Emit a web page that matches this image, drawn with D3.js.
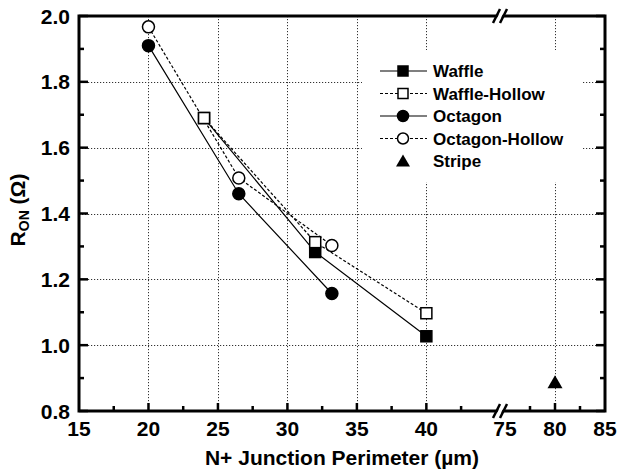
<!DOCTYPE html>
<html>
<head>
<meta charset="utf-8">
<script src="https://cdn.jsdelivr.net/npm/d3@7"></script>
<style>
  body { margin: 0; background: #fff; }
  svg { display: block; font-family: "Liberation Sans", Arial, sans-serif; font-weight: bold; }
</style>
</head>
<body>
<div id="chart"></div>
<script>
// data
const waffleX = [24, 32, 40];
const waffleY = [1.69, 1.283, 1.027];
const waffleHollowX = [24, 32, 40];
const waffleHollowY = [1.69, 1.313, 1.097];
const octagonX = [20, 26.5, 33.2];
const octagonY = [1.91, 1.46, 1.157];
const octagonHollowX = [20, 26.5, 33.2];
const octagonHollowY = [1.967, 1.508, 1.303];
const stripeX = [80];
const stripeY = [0.887];

const yTicks = [0.8, 1.0, 1.2, 1.4, 1.6, 1.8, 2.0];
const xTicksLeft = [15, 20, 25, 30, 35, 40];
const xTicksRight = [75, 80, 85];
const xGridLeft = [20, 25, 30, 35, 40];
const xGridRight = [80];
const yGrid = [1.0, 1.2, 1.4, 1.6, 1.8];

(function () {
const W = 619, H = 474;
const pLeft = 79, pRight = 605, pTop = 16, pBottom = 411;
const breakX = 500;

const svg = d3.select('#chart').append('svg').attr('width', W).attr('height', H);

// broken x axis: two linear pieces
const xL = d3.scaleLinear().domain([15, 45.3]).range([pLeft, breakX]);
const xR = d3.scaleLinear().domain([74.5, 85]).range([breakX, pRight]);
const x = v => v < 60 ? xL(v) : xR(v);
const y = d3.scaleLinear().domain([0.8, 2.0]).range([pBottom, pTop]);

// grid
const grid = svg.append('g').attr('stroke', '#333').attr('stroke-width', 1).attr('stroke-dasharray', '1.2,1.8');
yGrid.forEach(v => grid.append('line').attr('x1', pLeft).attr('x2', pRight).attr('y1', Math.round(y(v)) + 0.5).attr('y2', Math.round(y(v)) + 0.5));
xGridLeft.forEach(v => grid.append('line').attr('x1', Math.round(xL(v)) + 0.5).attr('x2', Math.round(xL(v)) + 0.5).attr('y1', pTop).attr('y2', pBottom));
xGridRight.forEach(v => grid.append('line').attr('x1', Math.round(xR(v)) + 0.5).attr('x2', Math.round(xR(v)) + 0.5).attr('y1', pTop).attr('y2', pBottom));

// legend background hides grid
svg.append('rect').attr('x', 362).attr('y', 50).attr('width', 220).attr('height', 132).attr('fill', '#fff');

// ticks (inward)
const ticks = svg.append('g').attr('stroke', '#000').attr('stroke-width', 2.5);
d3.range(0.8, 2.001, 0.1).forEach((v, i) => {
  const len = i % 2 === 0 ? 9 : 5;
  ticks.append('line').attr('x1', pLeft).attr('x2', pLeft + len).attr('y1', y(v)).attr('y2', y(v));
  ticks.append('line').attr('x1', pRight).attr('x2', pRight - len).attr('y1', y(v)).attr('y2', y(v));
});
d3.range(17.5, 43, 2.5).forEach((v, i) => {
  const len = i % 2 === 1 ? 8 : 5;
  ticks.append('line').attr('x1', xL(v)).attr('x2', xL(v)).attr('y1', pBottom).attr('y2', pBottom - len);
});
[77.5, 80, 82.5].forEach(v => {
  const len = v === 80 ? 8 : 5;
  ticks.append('line').attr('x1', xR(v)).attr('x2', xR(v)).attr('y1', pBottom).attr('y2', pBottom - len);
});

// frame
svg.append('rect').attr('x', pLeft).attr('y', pTop).attr('width', pRight - pLeft).attr('height', pBottom - pTop)
  .attr('fill', 'none').attr('stroke', '#000').attr('stroke-width', 3);

// break marks
[pTop, pBottom].forEach(yy => {
  svg.append('polygon')
    .attr('points', `${breakX - 5},${yy + 6} ${breakX + 1},${yy - 6} ${breakX + 5},${yy - 6} ${breakX - 1},${yy + 6}`)
    .attr('fill', '#fff');
  [-3, 4].forEach(dx => svg.append('line')
    .attr('x1', breakX + dx - 4).attr('y1', yy + 7).attr('x2', breakX + dx + 3).attr('y2', yy - 7)
    .attr('stroke', '#000').attr('stroke-width', 2.5));
});

// tick labels
const yAxisLabels = svg.append('g').attr('font-size', 21).attr('text-anchor', 'end');
yTicks.forEach(v => yAxisLabels.append('text').attr('x', 70).attr('y', y(v) + 7.5).text(d3.format('.1f')(v)));
const xAxisLabels = svg.append('g').attr('font-size', 21).attr('text-anchor', 'middle');
xTicksLeft.forEach(v => xAxisLabels.append('text').attr('x', xL(v)).attr('y', 436).text(v));
xTicksRight.forEach(v => xAxisLabels.append('text').attr('x', xR(v)).attr('y', 436).text(v));

// axis titles
svg.append('text').attr('x', (pLeft + pRight) / 2).attr('y', 465).attr('text-anchor', 'middle')
  .attr('font-size', 21).text('N+ Junction Perimeter (\u00b5m)');
const yt = svg.append('text').attr('transform', 'translate(25,210) rotate(-90)').attr('text-anchor', 'middle').attr('font-size', 21);
yt.append('tspan').text('R');
yt.append('tspan').attr('font-size', 14).attr('dy', 4).text('ON');
yt.append('tspan').attr('dy', -4).text(' (\u03a9)');

// series
const series = [
  { name: 'Waffle', xs: waffleX, ys: waffleY, dash: null, marker: 'square', fill: '#000' },
  { name: 'Waffle-Hollow', xs: waffleHollowX, ys: waffleHollowY, dash: '3,2', marker: 'square', fill: '#fff' },
  { name: 'Octagon', xs: octagonX, ys: octagonY, dash: null, marker: 'circle', fill: '#000' },
  { name: 'Octagon-Hollow', xs: octagonHollowX, ys: octagonHollowY, dash: '3,2', marker: 'circle', fill: '#fff' },
  { name: 'Stripe', xs: stripeX, ys: stripeY, dash: null, marker: 'triangle', fill: '#000', noLine: true }
];

const line = d3.line().x(d => x(d[0])).y(d => y(d[1]));

function drawMarker(g, type, cx, cy, fill, size) {
  const h = size / 2;
  if (type === 'square') {
    g.append('rect').attr('x', cx - h).attr('y', cy - h).attr('width', size).attr('height', size)
      .attr('fill', fill).attr('stroke', '#000').attr('stroke-width', 1.5);
  } else if (type === 'circle') {
    g.append('circle').attr('cx', cx).attr('cy', cy).attr('r', h + 0.5)
      .attr('fill', fill).attr('stroke', '#000').attr('stroke-width', 1.5);
  } else {
    g.append('path').attr('d', `M${cx},${cy - h - 1.5}L${cx + h + 2},${cy + h + 0.5}L${cx - h - 2},${cy + h + 0.5}Z`).attr('fill', fill);
  }
}

const plot = svg.append('g');
series.forEach(s => {
  const pts = s.xs.map((v, i) => [v, s.ys[i]]);
  if (!s.noLine) {
    plot.append('path').attr('d', line(pts)).attr('fill', 'none').attr('stroke', '#000')
      .attr('stroke-width', 1.2).attr('stroke-dasharray', s.dash);
  }
});
series.forEach(s => {
  s.xs.forEach((v, i) => drawMarker(plot, s.marker, x(v), y(s.ys[i]), s.fill, 11));
});

// legend
const legend = svg.append('g');
series.forEach((s, i) => {
  const ly = 71 + i * 22.5;
  if (!s.noLine) {
    legend.append('line').attr('x1', 380).attr('x2', 427).attr('y1', ly).attr('y2', ly)
      .attr('stroke', '#000').attr('stroke-width', 1.2).attr('stroke-dasharray', s.dash);
  }
  drawMarker(legend, s.marker, 403, ly, s.fill, 10);
  legend.append('text').attr('x', 433).attr('y', ly + 6).attr('font-size', 17).text(s.name);
});
})();
</script>
</body>
</html>
